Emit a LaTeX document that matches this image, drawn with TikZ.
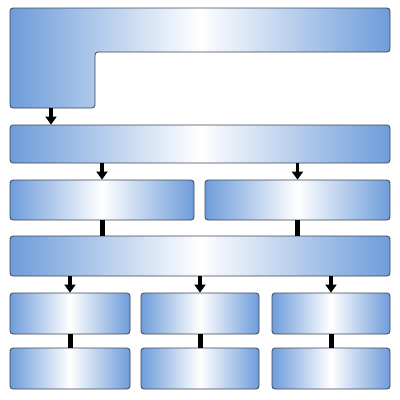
\documentclass[tikz,border=0pt]{standalone}
\usetikzlibrary{arrows.meta,positioning}
\definecolor{panelblue}{HTML}{6E9CDA}
\definecolor{panelrim}{HTML}{3C4450}

\begin{document}
\begin{tikzpicture}[
  x=1pt, y=-1pt,
  panel/.style={rectangle,draw=panelrim,line width=0.8pt,rounded corners=3pt,
    left color=panelblue,right color=panelblue,middle color=white,inner sep=0pt},
  wide/.style={panel,minimum width=380pt},
  flow/.style={-{Triangle[width=11pt,length=8pt]},draw=black,line width=3.5pt},
  link/.style={draw=black,line width=5pt}]
\useasboundingbox (0,0) rectangle (400,400);
% top block
\path[panel] (10,8) -- (390,8) -- (390,52) -- (95,52) -- (95,108)
  -- (10,108) -- cycle;
\coordinate (foot) at (51,108);
\node[wide,minimum height=38pt] (bar1) at (200,144) {};
\node[panel,minimum width=184pt,minimum height=40pt] (boxL) at (102,200) {};
\node[panel,minimum width=185pt,minimum height=40pt] (boxR) at (297.5,200) {};
\node[wide,minimum height=40pt] (bar2) at (200,256) {};
\foreach \n/\x/\w in {a/70/120,b/200/118,c/331/118}{
  \node[panel,minimum width=\w pt,minimum height=41pt] (up\n) at (\x,313.5) {};
  \node[panel,minimum width=\w pt,minimum height=41pt] (lo\n) at (\x,368.5) {};
}
\draw[flow] (foot) -- (foot |- bar1.north);
\draw[flow] (bar1.south -| boxL) -- (boxL);
\draw[flow] (bar1.south -| boxR) -- (boxR);
\draw[link] (boxL) -- (boxL |- bar2.north);
\draw[link] (boxR) -- (boxR |- bar2.north);
\foreach \n in {a,b,c}{
  \draw[flow] (bar2.south -| up\n) -- (up\n);
  \draw[link] (up\n) -- (lo\n);
}
\end{tikzpicture}
\end{document}
